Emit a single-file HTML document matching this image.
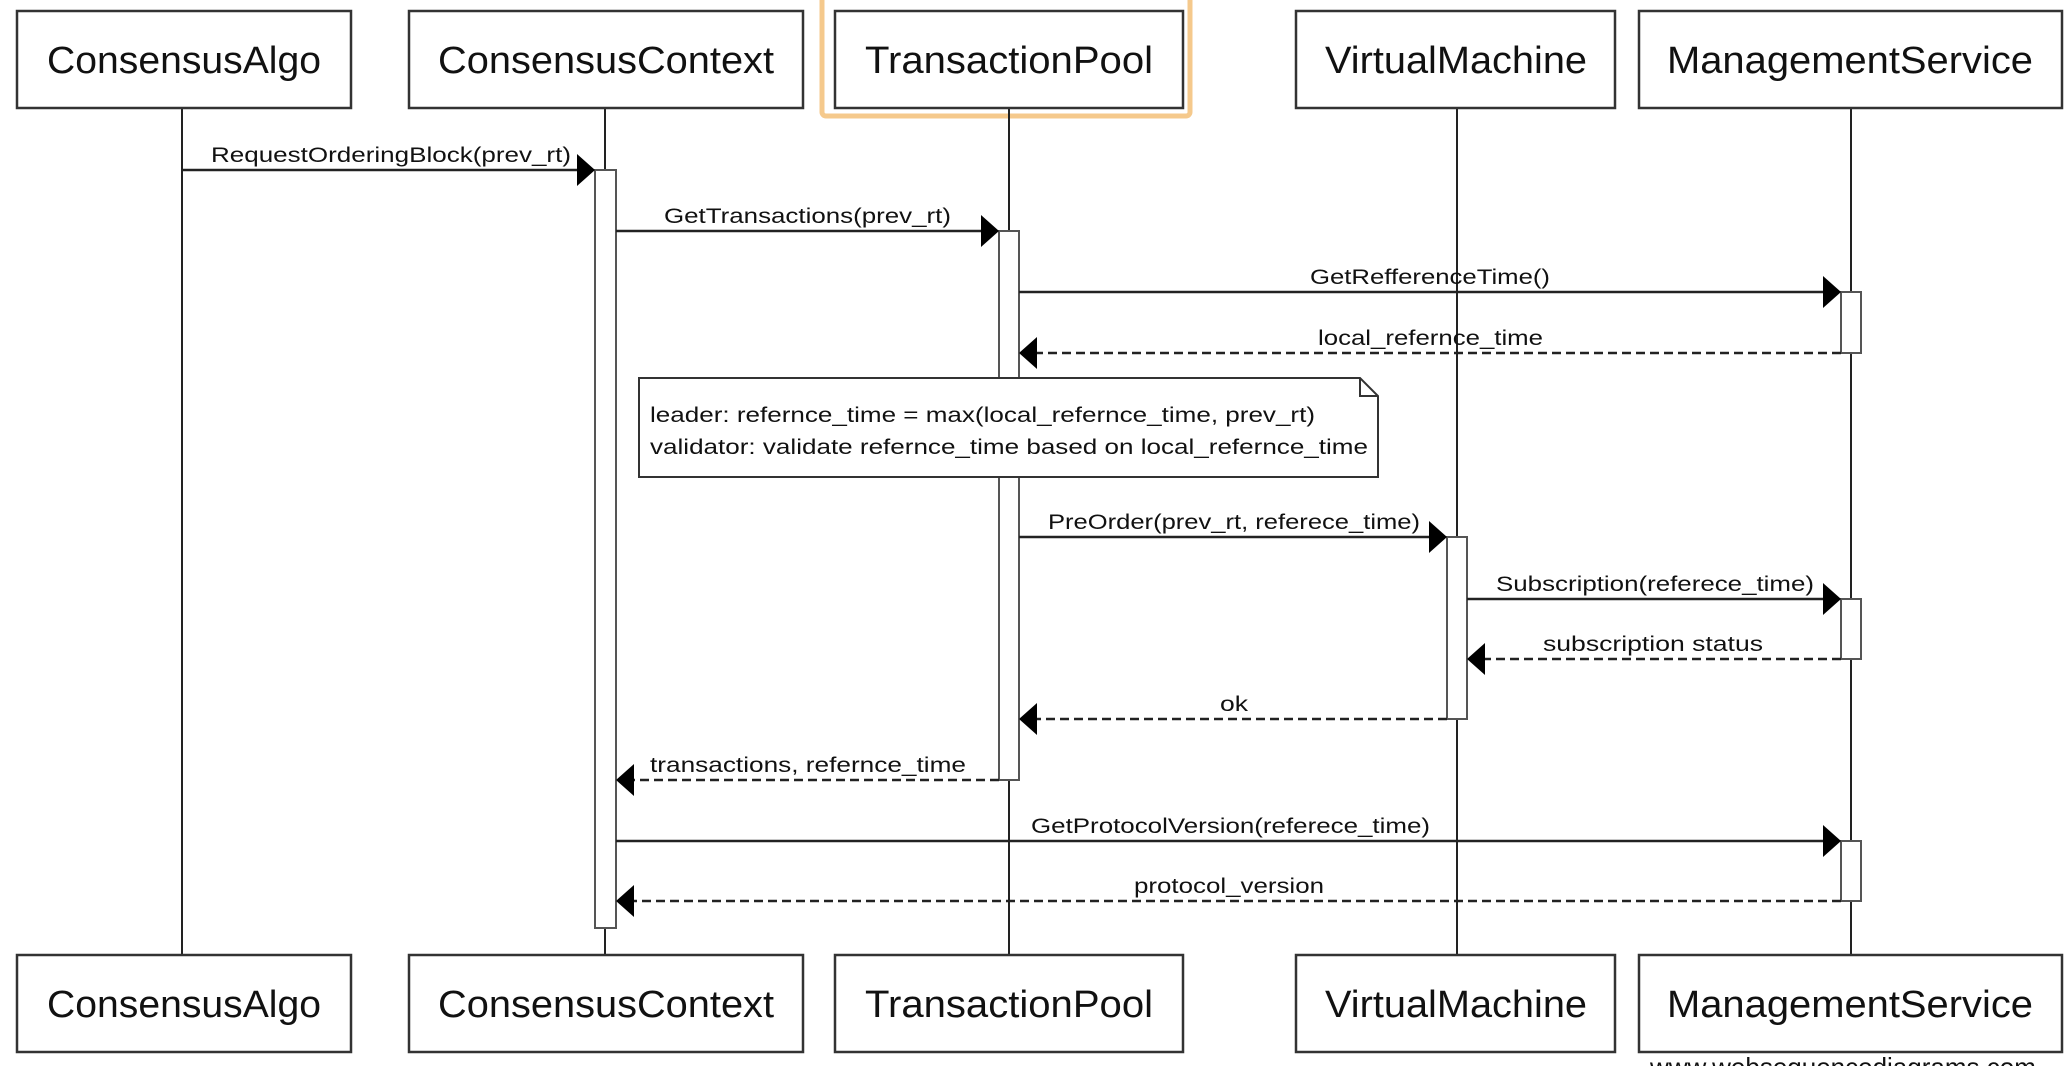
<!DOCTYPE html>
<html><head><meta charset="utf-8"><style>
html,body{margin:0;padding:0;background:#fff;overflow:hidden}
svg{display:block}
text{font-family:"Liberation Sans",Arial,sans-serif;fill:#111}
</style></head><body>
<svg width="2072" height="1066" viewBox="0 0 2072 1066" xmlns="http://www.w3.org/2000/svg">
<!-- highlight -->
<rect x="822" y="-4" width="368" height="120" rx="4" fill="none" stroke="#f5c98c" stroke-width="5"/>
<!-- lifelines -->
<g stroke="#222" stroke-width="2">
<line x1="182" y1="108" x2="182" y2="955"/>
<line x1="605" y1="108" x2="605" y2="955"/>
<line x1="1009" y1="108" x2="1009" y2="955"/>
<line x1="1457" y1="108" x2="1457" y2="955"/>
<line x1="1851" y1="108" x2="1851" y2="955"/>
</g>
<!-- boxes -->
<g fill="#fff" stroke="#333" stroke-width="2.5">
<rect x="17" y="11" width="334" height="97"/>
<rect x="409" y="11" width="394" height="97"/>
<rect x="835" y="11" width="348" height="97"/>
<rect x="1296" y="11" width="319" height="97"/>
<rect x="1639" y="11" width="423" height="97"/>
<rect x="17" y="955" width="334" height="97"/>
<rect x="409" y="955" width="394" height="97"/>
<rect x="835" y="955" width="348" height="97"/>
<rect x="1296" y="955" width="319" height="97"/>
<rect x="1639" y="955" width="423" height="97"/>
</g>
<g font-size="38" text-anchor="middle">
<text x="184" y="73" textLength="274" lengthAdjust="spacingAndGlyphs">ConsensusAlgo</text>
<text x="606" y="73" textLength="336" lengthAdjust="spacingAndGlyphs">ConsensusContext</text>
<text x="1009" y="73" textLength="288" lengthAdjust="spacingAndGlyphs">TransactionPool</text>
<text x="1456" y="73" textLength="262" lengthAdjust="spacingAndGlyphs">VirtualMachine</text>
<text x="1850" y="73" textLength="366" lengthAdjust="spacingAndGlyphs">ManagementService</text>
<text x="184" y="1017" textLength="274" lengthAdjust="spacingAndGlyphs">ConsensusAlgo</text>
<text x="606" y="1017" textLength="336" lengthAdjust="spacingAndGlyphs">ConsensusContext</text>
<text x="1009" y="1017" textLength="288" lengthAdjust="spacingAndGlyphs">TransactionPool</text>
<text x="1456" y="1017" textLength="262" lengthAdjust="spacingAndGlyphs">VirtualMachine</text>
<text x="1850" y="1017" textLength="366" lengthAdjust="spacingAndGlyphs">ManagementService</text>
</g>
<!-- activations -->
<g fill="#fff" stroke="#555" stroke-width="2">
<rect x="595" y="170" width="21" height="758"/>
<rect x="999" y="231" width="20" height="549"/>
<rect x="1841" y="292" width="20" height="61"/>
<rect x="1447" y="537" width="20" height="182"/>
<rect x="1841" y="599" width="20" height="60"/>
<rect x="1841" y="841" width="20" height="60"/>
</g>
<!-- solid messages -->
<g stroke="#222" stroke-width="2.5">
<line x1="182" y1="170" x2="578" y2="170"/>
<line x1="616" y1="231" x2="982" y2="231"/>
<line x1="1019" y1="292" x2="1824" y2="292"/>
<line x1="1019" y1="537" x2="1430" y2="537"/>
<line x1="1467" y1="599" x2="1824" y2="599"/>
<line x1="616" y1="841" x2="1824" y2="841"/>
</g>
<g stroke="#222" stroke-width="2.5" stroke-dasharray="9,5">
<line x1="1841" y1="353" x2="1036" y2="353"/>
<line x1="1841" y1="659" x2="1484" y2="659"/>
<line x1="1447" y1="719" x2="1036" y2="719"/>
<line x1="999" y1="780" x2="633" y2="780"/>
<line x1="1841" y1="901" x2="633" y2="901"/>
</g>
<g fill="#000">
<polygon points="595,170 577,154 577,186"/>
<polygon points="999,231 981,215 981,247"/>
<polygon points="1841,292 1823,276 1823,308"/>
<polygon points="1447,537 1429,521 1429,553"/>
<polygon points="1841,599 1823,583 1823,615"/>
<polygon points="1841,841 1823,825 1823,857"/>
<polygon points="1019,353 1037,337 1037,369"/>
<polygon points="1467,659 1485,643 1485,675"/>
<polygon points="1019,719 1037,703 1037,735"/>
<polygon points="616,780 634,764 634,796"/>
<polygon points="616,901 634,885 634,917"/>
</g>
<g font-size="21">
<text x="211" y="162" textLength="360" lengthAdjust="spacingAndGlyphs">RequestOrderingBlock(prev_rt)</text>
<text x="664" y="223" textLength="287" lengthAdjust="spacingAndGlyphs">GetTransactions(prev_rt)</text>
<text x="1310" y="284" textLength="240" lengthAdjust="spacingAndGlyphs">GetRefferenceTime()</text>
<text x="1318" y="345" textLength="225" lengthAdjust="spacingAndGlyphs">local_refernce_time</text>
<text x="1048" y="529" textLength="372" lengthAdjust="spacingAndGlyphs">PreOrder(prev_rt, referece_time)</text>
<text x="1496" y="591" textLength="318" lengthAdjust="spacingAndGlyphs">Subscription(referece_time)</text>
<text x="1543" y="651" textLength="220" lengthAdjust="spacingAndGlyphs">subscription status</text>
<text x="1220" y="711" textLength="28" lengthAdjust="spacingAndGlyphs">ok</text>
<text x="650" y="772" textLength="316" lengthAdjust="spacingAndGlyphs">transactions, refernce_time</text>
<text x="1031" y="833" textLength="399" lengthAdjust="spacingAndGlyphs">GetProtocolVersion(referece_time)</text>
<text x="1134" y="893" textLength="190" lengthAdjust="spacingAndGlyphs">protocol_version</text>
</g>
<!-- note -->
<path d="M639,378 L1360,378 L1378,396 L1378,477 L639,477 Z" fill="#fff" stroke="#333" stroke-width="2"/>
<path d="M1360,378 L1360,396 L1378,396" fill="none" stroke="#333" stroke-width="2"/>
<g font-size="21">
<text x="650" y="422" textLength="665" lengthAdjust="spacingAndGlyphs">leader: refernce_time = max(local_refernce_time, prev_rt)</text>
<text x="650" y="454" textLength="718" lengthAdjust="spacingAndGlyphs">validator: validate refernce_time based on local_refernce_time</text>
</g>
<text x="1650" y="1076" font-size="26" fill="#222">www.websequencediagrams.com</text>
</svg>
</body></html>
